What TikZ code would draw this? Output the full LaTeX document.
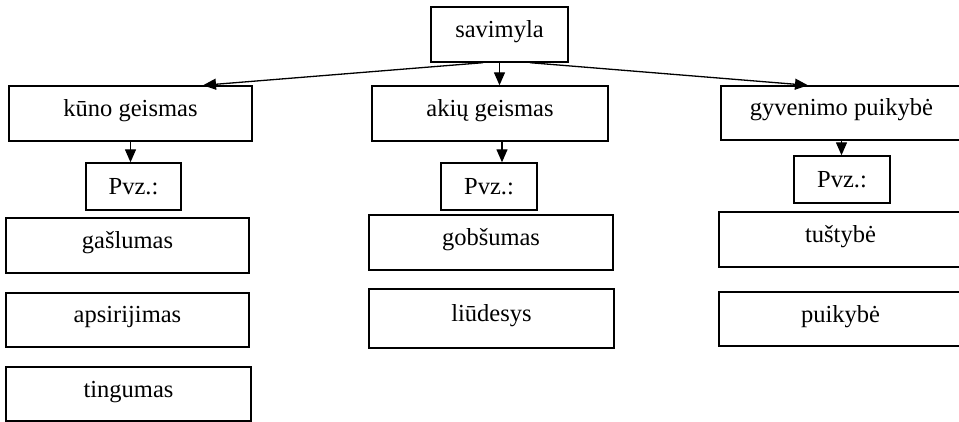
\documentclass[tikz,border=0pt]{standalone}
\usepackage{fontspec}
\setmainfont{Liberation Serif}
\usetikzlibrary{arrows.meta}
\begin{document}
\begin{tikzpicture}[x=1pt,y=-1pt,
  box/.style={draw, line width=1.4pt, inner sep=0pt, text height=17pt, text depth=11pt,
    font=\fontsize{24.5}{29}\selectfont},
  pvzbox/.style={box, text depth=0pt},
  arr/.style={line width=1.3pt, -{Triangle[length=13pt,width=11pt]}}]
\useasboundingbox (0,0) rectangle (959,422);
\node[box, minimum width=137pt, minimum height=55pt] (sav) at (499.5,34.5) {savimyla};
\node[box, minimum width=243pt, minimum height=55pt] (kuno) at (130.5,113.5) {kūno geismas};
\node[box, minimum width=236pt, minimum height=55pt] (akiu) at (490,113.5) {akių geismas};
\node[box, minimum width=241pt, minimum height=54pt] (gyv) at (841.5,113) {gyvenimo puikybė};
\node[pvzbox, minimum width=95pt, minimum height=47pt] (pvz1) at (133.5,186.5) {Pvz.:};
\node[pvzbox, minimum width=96pt, minimum height=47pt] (pvz2) at (489,186.5) {Pvz.:};
\node[pvzbox, minimum width=96pt, minimum height=47pt] (pvz3) at (842,179.5) {Pvz.:};
\node[box, minimum width=243pt, minimum height=55pt] (gas) at (127.5,245.5) {gašlumas};
\node[box, minimum width=243pt, minimum height=54pt] (aps) at (127.5,320) {apsirijimas};
\node[box, minimum width=245pt, minimum height=54pt] (ting) at (128.5,394) {tingumas};
\node[box, minimum width=244pt, minimum height=55pt] (gob) at (491,242.5) {gobšumas};
\node[box, minimum width=245pt, minimum height=59pt] (liu) at (491.5,318.5) {liūdesys};
\node[box, minimum width=243pt, minimum height=55pt] (tus) at (840.5,239.5) {tuštybė};
\node[box, minimum width=243pt, minimum height=54pt] (puik) at (840.5,319) {puikybė};
\draw[arr] ([xshift=-16.5pt]sav.south) -- ([xshift=72.5pt]kuno.north);
\draw[arr] (sav.south) -- (sav.south |- akiu.north);
\draw[arr] ([xshift=30.5pt]sav.south) -- ([xshift=-33.5pt]gyv.north);
\draw[arr] (kuno.south) -- (kuno.south |- pvz1.north);
\draw[arr] ([xshift=12pt]akiu.south) coordinate (a2) -- (a2 |- pvz2.north);
\draw[arr] (gyv.south) -- (gyv.south |- pvz3.north);
\end{tikzpicture}
\end{document}
